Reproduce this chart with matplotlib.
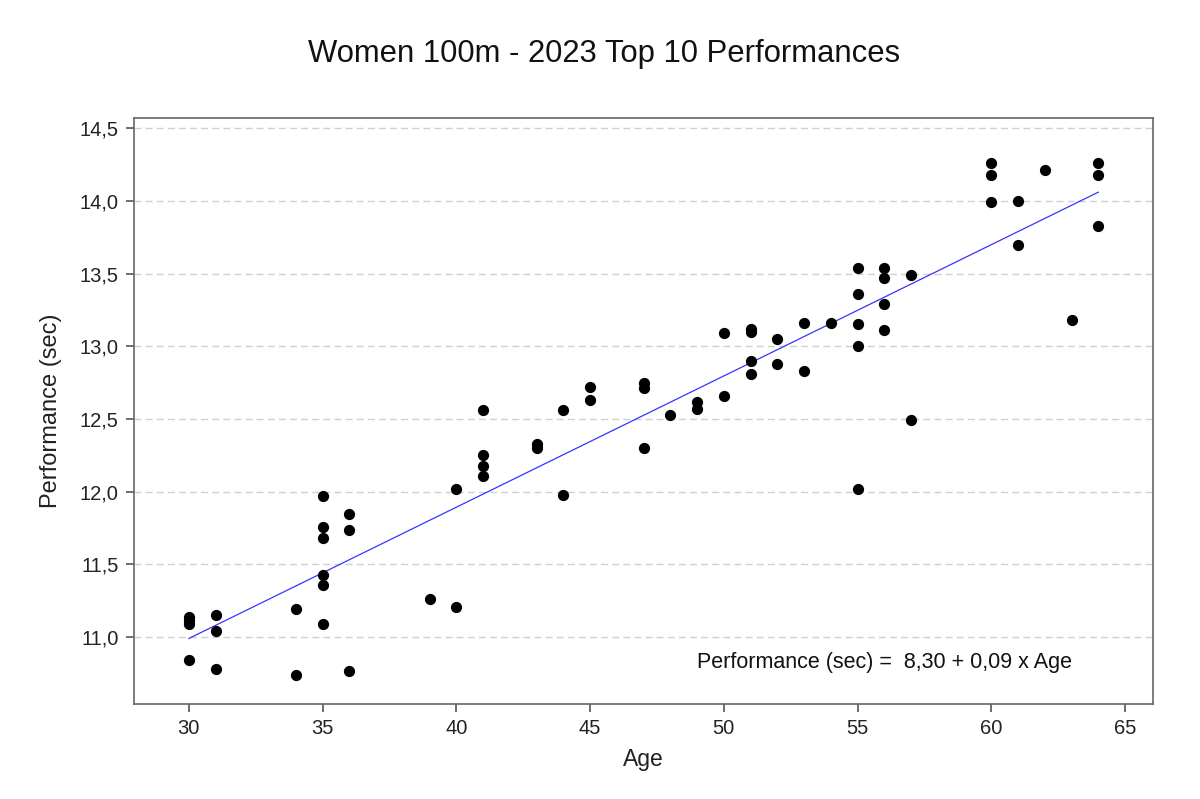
import numpy as np
import matplotlib.pyplot as plt
from matplotlib.ticker import FuncFormatter

plt.rcParams["font.family"] = ["Liberation Sans", "DejaVu Sans"]

# Age / performance pairs
age = [30, 30, 30, 30, 31, 31, 31, 34, 34,
       35, 35, 35, 35, 35, 35, 36, 36, 36, 39, 40, 40,
       41, 41, 41, 41, 43, 43, 44, 44, 45, 45,
       47, 47, 47, 48, 49, 49, 50, 50,
       51, 51, 51, 51, 52, 52, 53, 53, 54,
       55, 55, 55, 55, 55, 56, 56, 56, 56, 57, 57,
       60, 60, 60, 61, 61, 62, 63, 64, 64, 64]
perf = [11.14, 11.12, 11.09, 10.84, 11.15, 11.04, 10.78, 11.19, 10.74,
        11.97, 11.76, 11.68, 11.43, 11.36, 11.09, 11.85, 11.74, 10.77, 11.26, 12.02, 11.21,
        12.56, 12.25, 12.18, 12.11, 12.33, 12.30, 12.56, 11.98, 12.72, 12.63,
        12.75, 12.71, 12.30, 12.53, 12.62, 12.57, 13.09, 12.66,
        13.12, 13.10, 12.90, 12.81, 13.05, 12.88, 13.16, 12.83, 13.16,
        13.54, 13.36, 13.15, 13.00, 12.02, 13.54, 13.47, 13.29, 13.11, 13.49, 12.49,
        14.26, 14.18, 13.99, 14.00, 13.70, 14.21, 13.18, 14.26, 14.18, 13.83]

age = np.array(age)
perf = np.array(perf)
slope, intercept = np.polyfit(age, perf, 1)

fig = plt.figure(figsize=(12, 7.99), dpi=100)
ax = fig.add_axes([0.1117, 0.1189, 0.8492, 0.7334])

ax.yaxis.grid(True, linestyle=(0, (5, 3)), color="#d0d0d0", linewidth=1)
ax.set_axisbelow(True)

ax.scatter(age, perf, s=50, color="black", zorder=3)
xfit = np.array([age.min(), age.max()])
ax.plot(xfit, intercept + slope * xfit, color="#3535ff", linewidth=0.9, zorder=2)

ax.set_xlim(27.95, 66.05)
ax.set_ylim(10.54, 14.57)
ax.set_xticks([30, 35, 40, 45, 50, 55, 60, 65])
ax.set_yticks([11.0, 11.5, 12.0, 12.5, 13.0, 13.5, 14.0, 14.5])
ax.yaxis.set_major_formatter(FuncFormatter(lambda v, p: f"{v:.1f}".replace(".", ",")))

for s in ax.spines.values():
    s.set_color("#666666")
    s.set_linewidth(1.2)
ax.tick_params(direction="out", length=6, width=1.2, color="#555555",
               labelsize=14.5, labelcolor="#222222", pad=5)

ax.set_xlabel("Age", fontsize=16.5, color="#222222", labelpad=7)
ax.set_ylabel("Performance (sec)", fontsize=17, color="#222222", labelpad=13)

ax.text(49.0, 10.825, "Performance (sec) =  8,30 + 0,09 x Age",
        fontsize=15.5, color="#111111", va="center", ha="left")

fig.text(0.503, 0.932, "Women 100m - 2023 Top 10 Performances",
         fontsize=22.3, ha="center", va="center", color="#111111")

fig.savefig("out.png", dpi=100)
